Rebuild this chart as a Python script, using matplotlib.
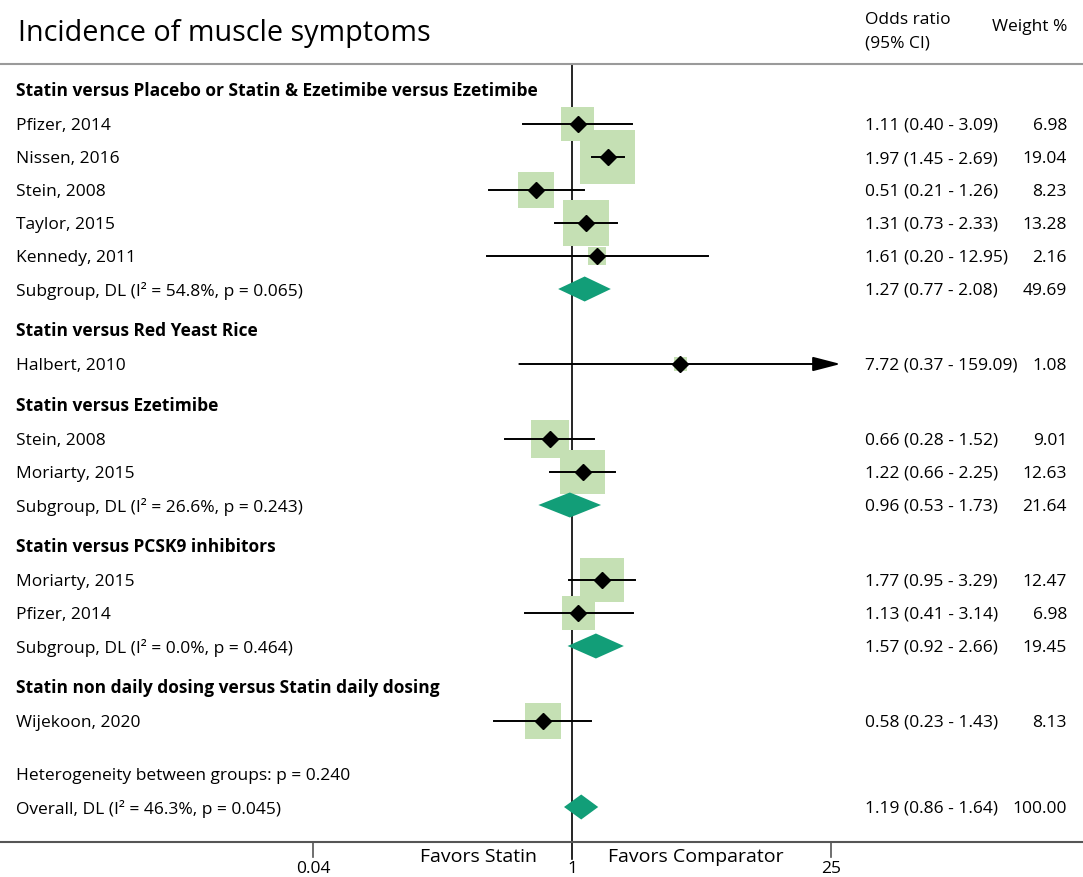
import numpy as np
import matplotlib
matplotlib.use('Agg')
import matplotlib.pyplot as plt
from matplotlib.patches import Polygon

plt.rcParams['font.family'] = ['Open Sans', 'DejaVu Sans']

# data
groups = [
    'Statin versus Placebo or Statin & Ezetimibe versus Ezetimibe',
    'Statin versus Red Yeast Rice',
    'Statin versus Ezetimibe',
    'Statin versus PCSK9 inhibitors',
    'Statin non daily dosing versus Statin daily dosing',
]
study_names = [
    ['Pfizer, 2014', 'Nissen, 2016', 'Stein, 2008', 'Taylor, 2015', 'Kennedy, 2011'],
    ['Halbert, 2010'],
    ['Stein, 2008', 'Moriarty, 2015'],
    ['Moriarty, 2015', 'Pfizer, 2014'],
    ['Wijekoon, 2020'],
]
study_or = [[1.11, 1.97, 0.51, 1.31, 1.61], [7.72], [0.66, 1.22], [1.77, 1.13], [0.58]]
study_lo = [[0.40, 1.45, 0.21, 0.73, 0.20], [0.37], [0.28, 0.66], [0.95, 0.41], [0.23]]
study_hi = [[3.09, 2.69, 1.26, 2.33, 12.95], [159.09], [1.52, 2.25], [3.29, 3.14], [1.43]]
study_w = [[6.98, 19.04, 8.23, 13.28, 2.16], [1.08], [9.01, 12.63], [12.47, 6.98], [8.13]]

# subgroup pooled estimates (None = no subgroup row)
sub_label = ['Subgroup, DL (I² = 54.8%, p = 0.065)', None,
             'Subgroup, DL (I² = 26.6%, p = 0.243)',
             'Subgroup, DL (I² = 0.0%, p = 0.464)', None]
sub_or = [1.27, None, 0.96, 1.57, None]
sub_lo = [0.77, None, 0.53, 0.92, None]
sub_hi = [2.08, None, 1.73, 2.66, None]
sub_w = [49.69, None, 21.64, 19.45, None]

het_text = 'Heterogeneity between groups: p = 0.240'
overall_label = 'Overall, DL (I² = 46.3%, p = 0.045)'
overall = (1.19, 0.86, 1.64, 100.00)

tick_pos = [10 ** -2.12, 1, 10 ** 2.12]
tick_labels = ['0.04', '1', '25']

# layout (pixel-like units, y grows downward)
W, H = 1083, 878
x_one = 572.0
px_per_dec = 122.0
row = 33
fs = 12.5
green_sq = '#c5e0b4'
teal = '#129e78'

fig = plt.figure(figsize=(W / 100, H / 100), dpi=100)
ax = fig.add_axes([0, 0, 1, 1])
ax.set_xscale('log')
ax.set_xlim(10 ** (-x_one / px_per_dec), 10 ** ((W - x_one) / px_per_dec))
ax.set_ylim(H, 0)
ax.axis('off')
tr = ax.get_yaxis_transform()


def px(x):
    return x / W


def fmt_or(o, lo, hi):
    return f'{o:.2f} ({lo:.2f} - {hi:.2f})'


def diamond(o, lo, hi, y, h=12.5):
    poly = Polygon([(lo, y), (o, y - h), (hi, y), (o, y + h)], closed=True,
                   facecolor=teal, edgecolor='none', zorder=4)
    ax.add_patch(poly)


def right_cols(y, o, lo, hi, w):
    ax.text(px(865), y + 1, fmt_or(o, lo, hi), transform=tr, fontsize=fs,
            va='center', ha='left')
    ax.text(px(1067), y + 1, f'{w:.2f}', transform=tr, fontsize=fs,
            va='center', ha='right')


y = 91
for g in range(len(groups)):
    ax.text(px(16), y, groups[g], transform=tr, fontsize=fs, fontweight='bold',
            va='center', ha='left')
    y += row + 1
    for name, o, lo, hi, w in zip(study_names[g], study_or[g], study_lo[g],
                                  study_hi[g], study_w[g]):
        ax.text(px(16), y + 1, name, transform=tr, fontsize=fs, va='center', ha='left')
        side = 12.6 * np.sqrt(w) * 0.72
        ax.scatter([o], [y], marker='s', s=side ** 2, color=green_sq,
                   edgecolors='none', zorder=2)
        if hi > 100:
            ax.annotate('', xy=(hi, y), xytext=(lo, y),
                        arrowprops=dict(arrowstyle='-|>,head_length=0.85,head_width=0.22',
                                        lw=1.4, color='black',
                                        mutation_scale=20, shrinkA=0, shrinkB=0),
                        zorder=3)
        else:
            ax.plot([lo, hi], [y, y], color='black', lw=1.4, zorder=3)
        ax.plot([o], [y], marker='D', markersize=8, color='black', zorder=5)
        right_cols(y, o, lo, hi, w)
        y += row
    if sub_label[g] is not None:
        ax.text(px(16), y + 1, sub_label[g], transform=tr, fontsize=fs,
                va='center', ha='left')
        diamond(sub_or[g], sub_lo[g], sub_hi[g], y)
        right_cols(y, sub_or[g], sub_lo[g], sub_hi[g], sub_w[g])
        y += row
    y += 8

# heterogeneity and overall
y_het = 776
y_ov = 808
ax.text(px(16), y_het, het_text, transform=tr, fontsize=fs, va='center', ha='left')
ax.text(px(16), y_ov + 1, overall_label, transform=tr, fontsize=fs, va='center', ha='left')
diamond(overall[0], overall[1], overall[2], y_ov)
right_cols(y_ov, *overall)

# frame lines
ax.plot([0, 1], [65, 65], transform=tr, color='#9a9a9a', lw=1.5)
ax.plot([0, 1], [843, 843], transform=tr, color='#555555', lw=1.5)
ax.plot([1, 1], [65, 860], color='black', lw=1.2, zorder=1)
for t, lab in zip(tick_pos, tick_labels):
    if t != 1:
        ax.plot([t, t], [843, 858], color='#555555', lw=1.2)
    ax.text(t, 869, lab, fontsize=12.5, ha='center', va='center')
ax.text(px(537), 857, 'Favors Statin', transform=tr, fontsize=14,
        ha='right', va='center')
ax.text(px(608), 857, 'Favors Comparator', transform=tr, fontsize=14,
        ha='left', va='center')

# title and headers
ax.text(px(18), 33, 'Incidence of muscle symptoms', transform=tr, fontsize=20.7,
        va='center', ha='left')
ax.text(px(865), 20, 'Odds ratio', transform=tr, fontsize=12.5, va='center', ha='left')
ax.text(px(865), 44, '(95% CI)', transform=tr, fontsize=12.5, va='center', ha='left')
ax.text(px(1067), 27, 'Weight %', transform=tr, fontsize=12.5, va='center', ha='right')

fig.savefig('out.png', dpi=100)
